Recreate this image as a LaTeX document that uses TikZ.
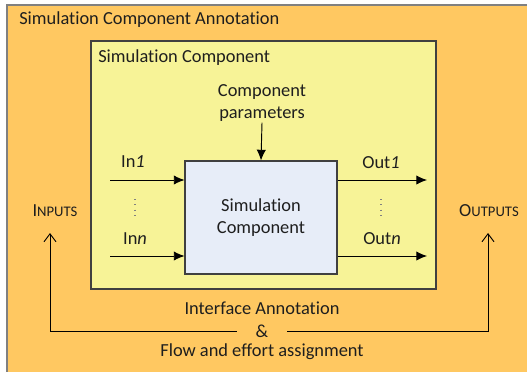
\documentclass[tikz,border=0pt]{standalone}
\usepackage{fontspec}
\setmainfont{Carlito}[Ligatures=NoCommon]
\usetikzlibrary{arrows.meta}

\definecolor{annotorange}{RGB}{255,200,97}
\definecolor{compyellow}{RGB}{247,243,151}
\definecolor{coreblue}{RGB}{231,237,248}
\definecolor{edgegray}{RGB}{64,64,64}
\definecolor{txtgray}{RGB}{30,30,30}

\tikzset{
  box/.style={draw=edgegray, line width=0.8pt},
  lbl/.style={inner sep=0.75pt, text=txtgray, font=\fontsize{13.8}{16.5}\selectfont},
  port/.style={-{Latex[length=8pt,width=7pt]}, line width=0.7pt, draw=black},
  assign/.style={-{Straight Barb[length=6pt,width=9pt]}, line width=0.7pt, draw=black},
  vdotline/.style={line width=0.9pt, dash pattern=on 0.8pt off 3.2pt, draw=gray},
}

\begin{document}
\begin{tikzpicture}[x=0.75pt,y=0.75pt,yscale=-1,xscale=1]
  \useasboundingbox (0,0) rectangle (527,371);
  \fill[white] (0,0) rectangle (527,371);

  % outer annotation frame
  \draw[box, draw=gray, fill=annotorange] (7,5) rectangle (530,375);
  \node[lbl, anchor=west] (annottitle) at (18,20) {Simulation Component Annotation};

  % component frame
  \draw[box, fill=compyellow] (91,41) rectangle (436,289);
  \node[lbl, anchor=west] (comptitle) at (97,58) {Simulation Component};

  % core block
  \node[box, fill=coreblue, minimum width=152*0.75pt, minimum height=113*0.75pt,
        lbl, align=center, text=txtgray] (core) at (261,217.5) {Simulation\\Component};

  \node[lbl, align=center] (params) at (262,103) {Component\\parameters};
  \draw[port] (params.south) -- (core.north);

  % inputs
  \coordinate (inone) at (110,180);
  \coordinate (inlast) at (110,256);
  \draw[port] (inone) -- (inone -| core.west);
  \draw[port] (inlast) -- (inlast -| core.west);
  \node[lbl] (inonelbl) at (133,162) {In\textit{1}};
  \node[lbl] (inlastlbl) at (135,239) {In\textit{n}};
  \draw[vdotline] (135,199) -- (135,216);

  % outputs
  \coordinate (outone) at (427,180);
  \coordinate (outlast) at (427,256);
  \draw[port] (outone -| core.east) -- (outone);
  \draw[port] (outlast -| core.east) -- (outlast);
  \node[lbl] (outonelbl) at (381,163) {Out\textit{1}};
  \node[lbl] (outlastlbl) at (382,239) {Out\textit{n}};
  \draw[vdotline] (381,199) -- (381,216);

  \node[lbl] (inputs) at (55,211) {I{\fontsize{11}{13}\selectfont NPUTS}};
  \node[lbl] (outputs) at (489,211) {O{\fontsize{11}{13}\selectfont UTPUTS}};

  % interface annotation
  \node[lbl] (ifacelbl) at (262,308) {Interface Annotation};
  \node[lbl, inner xsep=14pt] (amp) at (262,331) {\&};
  \node[lbl] (flowlbl) at (262,352) {Flow and effort assignment};
  \draw[assign] (amp.west) -| (50,233);
  \draw[assign] (amp.east) -| (488,233);
\end{tikzpicture}
\end{document}
